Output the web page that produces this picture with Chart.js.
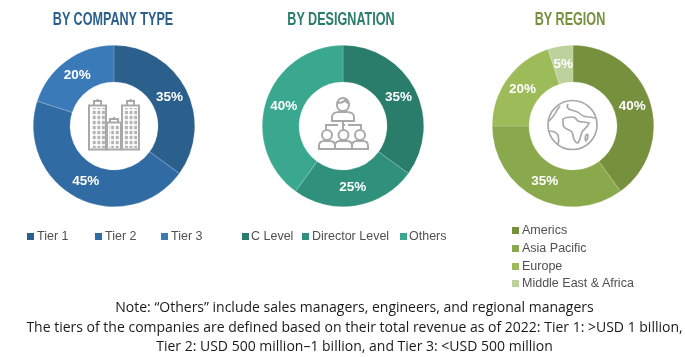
<!DOCTYPE html>
<html>
<head>
<meta charset="utf-8">
<script src="https://cdn.jsdelivr.net/npm/chart.js@4"></script>
<style>
  html, body { margin: 0; padding: 0; background: #fff; }
  #page { position: relative; width: 685px; height: 357px; overflow: hidden; font-family: "Liberation Sans", sans-serif; }
  .donut { position: absolute; top: 44px; width: 164px; height: 164px; }
  .title { position: absolute; top: 8px; width: 200px; text-align: center; font: bold 18px "Liberation Sans", sans-serif; line-height: 22px; white-space: nowrap; transform: scaleX(0.7); }
  .icon { position: absolute; left: 0; top: 0; }
  .key { position: absolute; font-size: 12.5px; line-height: 14px; color: #505050; white-space: nowrap; }
  .key i { position: absolute; top: 4px; width: 7px; height: 7px; }
  #note { position: absolute; left: 12px; top: 297px; width: 685px; text-align: center; font: 14px "Open Sans", sans-serif; color: #1a1a1a; }
  #note div { height: 19.5px; line-height: 19.5px; white-space: nowrap; }
</style>
</head>
<body>
<div id="page">
  <canvas id="companyChart" class="donut" style="left:31.5px"></canvas>
  <canvas id="designationChart" class="donut" style="left:260.5px"></canvas>
  <canvas id="regionChart" class="donut" style="left:490.5px"></canvas>

  <svg class="icon" width="685" height="357" fill="none" stroke="#a9a9a9" stroke-width="2">
    <defs>
      <pattern id="windows" x="0" y="0" width="4.6" height="5" patternUnits="userSpaceOnUse">
        <rect x="0.7" y="0.8" width="3" height="3.4" fill="#b4b4b4" stroke="none"></rect>
      </pattern>
    </defs>
    <!-- buildings -->
    <g>
      <rect x="89" y="105.5" width="17" height="44"></rect>
      <rect x="107" y="122.5" width="14" height="27"></rect>
      <rect x="122" y="105.5" width="17" height="44"></rect>
      <path d="M94 105v-4h7v4M97.5 101v-2M127 105v-4h7v4M130.5 101v-2M110 122v-3h8v3M114 119v-2"></path>
      <rect x="91" y="108" width="14" height="40" fill="url(#windows)" stroke="none"></rect>
      <rect x="109" y="125" width="11" height="23" fill="url(#windows)" stroke="none"></rect>
      <rect x="124" y="108" width="14" height="40" fill="url(#windows)" stroke="none"></rect>
    </g>
    <!-- hierarchy -->
    <g>
      <path d="M337 105c0-5 3-7 6-7s6 2 6 7c0 4-3 6-6 6s-6-2-6-6zM337 103c4 0 7-1 8-3 1 2 2 3 4 3"></path>
      <path d="M332 121v-4c0-3 3-5 7-5h8c4 0 7 2 7 5v4z"></path>
      <path d="M343 121v8M326 129v-4h12M342 125h3M348 125h13v4"></path>
      <circle cx="327" cy="135" r="5"></circle>
      <circle cx="343.5" cy="135" r="5"></circle>
      <circle cx="360" cy="135" r="5"></circle>
      <path d="M319 149v-3c0-3 2-5 5-5h6c3 0 5 2 5 5v3zM335 149v-3c0-3 2-5 5-5h7c3 0 5 2 5 5v3zM352 149v-3c0-3 2-5 5-5h6c3 0 5 2 5 5v3z"></path>
    </g>
    <!-- globe -->
    <g stroke-width="1.7">
      <circle cx="572.5" cy="125" r="24.5"></circle>
      <path d="M563 119c3-2 6-2 9-2 2 0 4 1 5 3 1 2 4 2 7 2l5 1c-1 4-5 6-7 9-1 3-2 8-4 11-3 0-4-3-5-7 0-3-1-5-4-6-3-1-6-3-6-6z"></path>
      <path d="M568 104c-2 3 0 5 3 6 3 1 6 1 8 3 3 3 6 4 10 4l7 1"></path>
      <path d="M549 121c3-3 6-6 8-11l3-4M549 131c3 0 7 1 9 4 1 3 1 6 0 10"></path>
      <path d="M586 135c1-1 2-1 2 0 0 2-1 5-2 6-1 0-1-4 0-6z"></path>
    </g>
  </svg>

  <div id="note">
    <div>Note: “Others” include sales managers, engineers, and regional managers</div>
    <div>The tiers of the companies are defined based on their total revenue as of 2022: Tier 1: &gt;USD 1 billion,</div>
    <div>Tier 2: USD 500 million–1 billion, and Tier 3: &lt;USD 500 million</div>
  </div>
</div>

<script>
const companyLabels = ["Tier 1", "Tier 2", "Tier 3"];
const companyValues = [35, 45, 20];
const companyColors = ["#2b5f8c", "#316ba3", "#3a7ab8"];

const designationLabels = ["C Level", "Director Level", "Others"];
const designationValues = [35, 25, 40];
const designationColors = ["#2a7d6b", "#2f917b", "#3aa88f"];

const regionLabels = ["Americs", "Asia Pacific", "Europe", "Middle East & Africa"];
const regionValues = [40, 35, 20, 5];
const regionColors = ["#76903d", "#8aa84c", "#9dbb58", "#bcd19b"];

// Percent labels sit at the middle of each slice.
const percentLabels = {
  id: "percentLabels",
  afterDatasetsDraw: (chart) => {
    const { ctx } = chart;
    const values = chart.data.datasets[0].data;
    ctx.save();
    ctx.fillStyle = "#ffffff";
    ctx.font = 'bold 13.5px "Liberation Sans"';
    ctx.textAlign = "center";
    ctx.textBaseline = "middle";
    chart.getDatasetMeta(0).data.forEach((arc, i) => {
      const { x, y } = arc.getCenterPoint();
      ctx.fillText(values[i] + "%", x, y);
    });
    ctx.restore();
  },
};

function drawDonut(id, labels, values, colors) {
  const ctx = document.getElementById(id).getContext("2d");
  return new Chart(ctx, {
    type: "doughnut",
    data: {
      labels: labels,
      datasets: [
        {
          data: values,
          backgroundColor: colors,
          borderColor: "rgba(255, 255, 255, 0.35)",
          borderWidth: 0.5,
        },
      ],
    },
    plugins: [percentLabels],
    options: {
      responsive: false,
      animation: false,
      cutout: "54.5%",
      layout: { padding: 1 },
      plugins: {
        legend: { display: false },
        tooltip: { enabled: false },
      },
    },
  });
}

function addTitle(text, center, color) {
  const el = document.createElement("div");
  el.className = "title";
  el.textContent = text;
  el.style.left = center - 100 + "px";
  el.style.color = color;
  document.getElementById("page").appendChild(el);
}

function addKey(text, color, left, textLeft, middle) {
  const el = document.createElement("div");
  el.className = "key";
  el.style.left = left + "px";
  el.style.top = middle - 7 + "px";
  el.style.paddingLeft = textLeft - left + "px";
  const box = document.createElement("i");
  box.style.left = "0";
  box.style.background = color;
  el.appendChild(box);
  el.appendChild(document.createTextNode(text));
  document.getElementById("page").appendChild(el);
}

document.querySelectorAll(".donut").forEach((c) => {
  c.width = 164;
  c.height = 164;
});

drawDonut("companyChart", companyLabels, companyValues, companyColors);
drawDonut("designationChart", designationLabels, designationValues, designationColors);
drawDonut("regionChart", regionLabels, regionValues, regionColors);

addTitle("BY COMPANY TYPE", 113, "#2b5f8c");
addTitle("BY DESIGNATION", 341, "#2a7d6b");
addTitle("BY REGION", 570, "#76903d");

[27, 95, 161].forEach((x, i) => addKey(companyLabels[i], companyColors[i], x, x + 10, 236));
[[242, 251], [302, 312], [400, 409]].forEach((x, i) => addKey(designationLabels[i], designationColors[i], x[0], x[1], 236));
[230, 248, 266, 283].forEach((y, i) => addKey(regionLabels[i], regionColors[i], 512, 522, y));
</script>
</body>
</html>
